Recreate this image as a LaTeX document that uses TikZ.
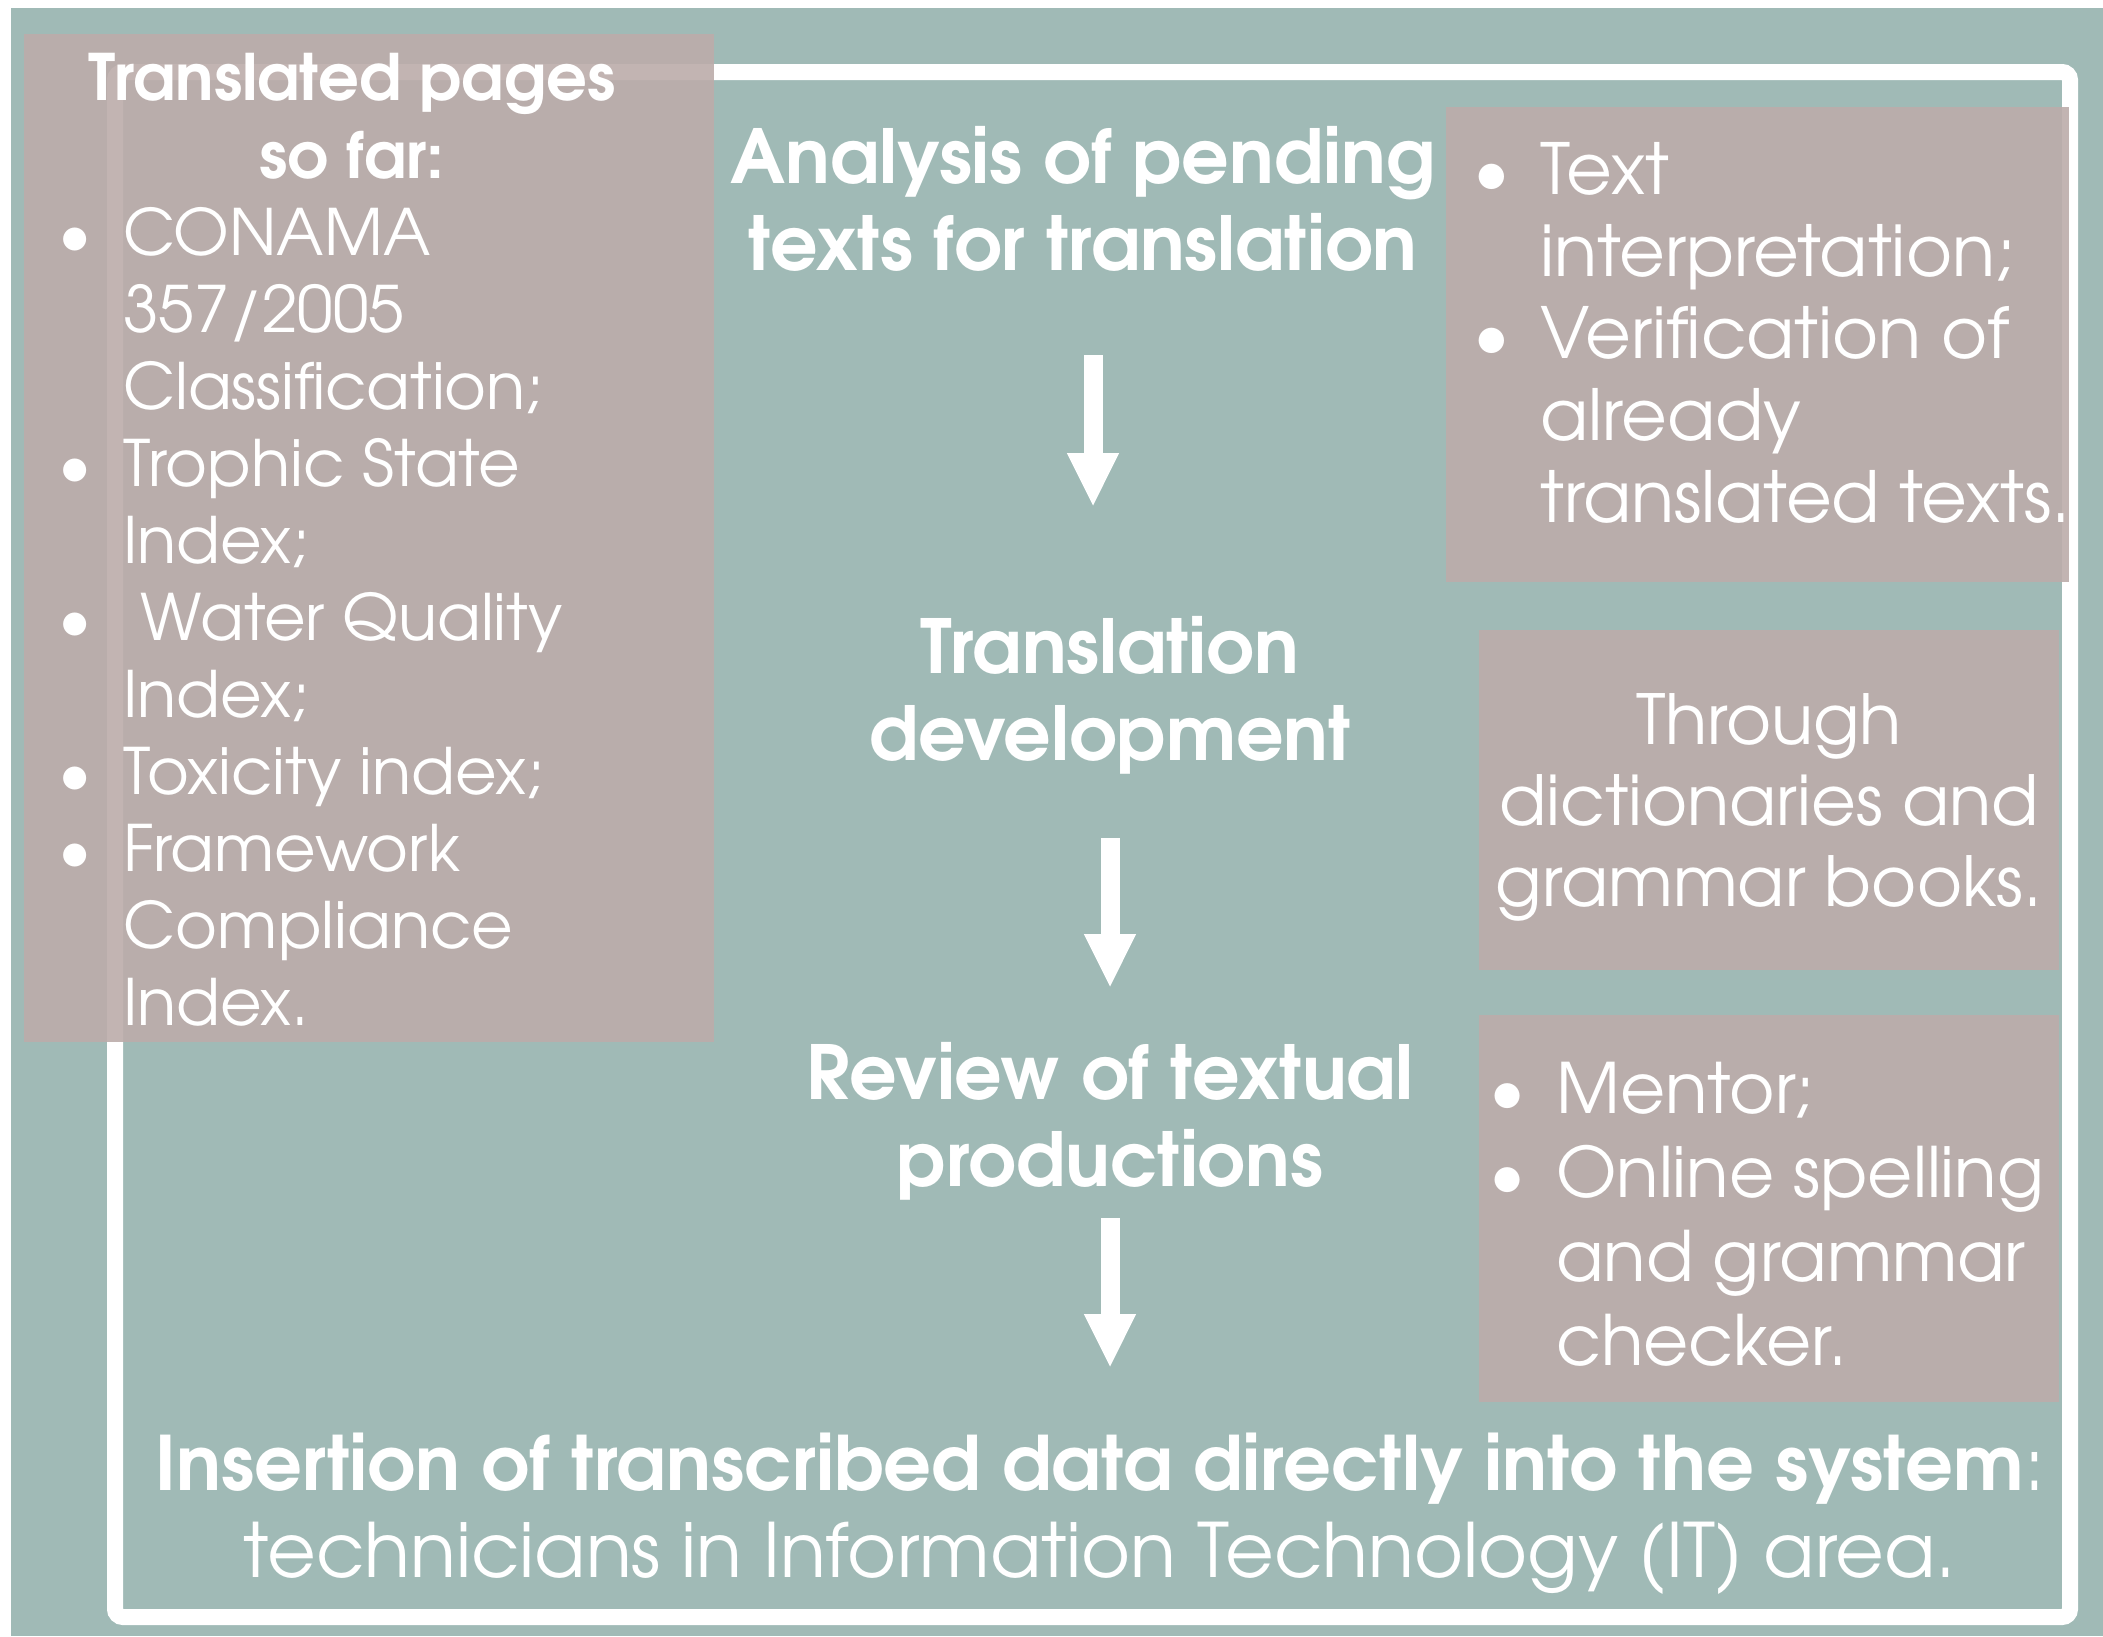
\documentclass[tikz,border=0pt]{standalone}
\usepackage{fontspec}
\setmainfont{TeX Gyre Adventor}
\usetikzlibrary{arrows.meta,calc}
\definecolor{tealbg}{RGB}{160,186,182}
\definecolor{mauve}{RGB}{188,172,170}
\tikzset{
  panel/.style={fill=mauve, fill opacity=0.9, draw=none, inner sep=0pt, anchor=north west},
  wtxt/.style={text=white, inner sep=0pt, anchor=base},
  wtxtl/.style={text=white, inner sep=0pt, anchor=base west},
  bigarrow/.style={draw=white, line width=19pt, -{Triangle[width=48pt,length=54pt]}},
  frame/.style={draw=white, line width=16pt, rounded corners=8pt}
}
\begin{document}
\begin{tikzpicture}[x=1pt,y=-1pt]
\useasboundingbox (0,0) rectangle (2103,1636);
\fill[white] (0,0) rectangle (2103,1636);
\fill[tealbg] (11,8) rectangle (2103,1636);
\draw[frame] (115,72) rectangle (2070,1617);
% panels
\node[panel, minimum width=690pt, minimum height=1008pt] (lbox) at (24,34) {};
\node[panel, minimum width=623pt, minimum height=475pt] (rbox1) at (1446,107) {};
\node[panel, minimum width=580pt, minimum height=340pt] (rbox2) at (1479,630) {};
\node[panel, minimum width=580pt, minimum height=387pt] (rbox3) at (1479,1015) {};
% left box text
\node[wtxt, font=\fontsize{64}{78}\selectfont\bfseries] (ltitle) at (352,100)
  {\begin{tabular}[t]{@{}c@{}}Translated pages\\so far:\end{tabular}};
\node[wtxtl, font=\fontsize{64}{77}\selectfont] (llist) at (58,255)
  {\begin{tabular}[t]{@{}p{65pt}@{}l@{}}
  \textbullet & CONAMA\\
  & 357/2005\\
  & Classification;\\
  \textbullet & Trophic State\\
  & Index;\\
  \textbullet & \ Water Quality\\
  & Index;\\
  \textbullet & Toxicity index;\\
  \textbullet & Framework\\
  & Compliance\\
  & Index.
  \end{tabular}};
% right boxes text
\node[wtxtl, font=\fontsize{70.5}{82}\selectfont] (r1list) at (1473,194)
  {\begin{tabular}[t]{@{}p{67pt}@{}l@{}}
  \textbullet & Text\\
  & interpretation;\\
  \textbullet & Verification of\\
  & already\\
  & translated texts.
  \end{tabular}};
\node[wtxt, font=\fontsize{69}{81}\selectfont] (r2text) at (1769,744)
  {\begin{tabular}[t]{@{}c@{}}Through\\dictionaries and\\grammar books.\end{tabular}};
\node[wtxtl, font=\fontsize{69.5}{84}\selectfont] (r3list) at (1489,1113)
  {\begin{tabular}[t]{@{}p{67pt}@{}l@{}}
  \textbullet & Mentor;\\
  \textbullet & Online spelling\\
  & and grammar\\
  & checker.
  \end{tabular}};
% center titles
\node[wtxt, font=\fontsize{74.5}{87}\selectfont\bfseries] (t1) at (1083,183)
  {\begin{tabular}[t]{@{}c@{}}Analysis of pending\\texts for translation\end{tabular}};
\node[wtxt, font=\fontsize{74.5}{87}\selectfont\bfseries] (t2) at (1110,673)
  {\begin{tabular}[t]{@{}c@{}}Translation\\development\end{tabular}};
\node[wtxt, font=\fontsize{74.5}{87}\selectfont\bfseries] (t3) at (1110,1099)
  {\begin{tabular}[t]{@{}c@{}}Review of textual\\productions\end{tabular}};
\node[wtxt, font=\fontsize{75}{87}\selectfont] (t4) at (1100,1490)
  {\begin{tabular}[t]{@{}c@{}}\textbf{Insertion of transcribed data directly into the system}:\\technicians in Information Technology (IT) area.\end{tabular}};
% arrows
\coordinate (a1s) at (1093,355);
\coordinate (a1e) at (1093,507);
\coordinate (a2s) at (1110,838);
\coordinate (a2e) at (1110,988);
\coordinate (a3s) at (1110,1218);
\coordinate (a3e) at (1110,1368);
\draw[bigarrow] (a1s) -- (a1e);
\draw[bigarrow] (a2s) -- (a2e);
\draw[bigarrow] (a3s) -- (a3e);
\end{tikzpicture}
\end{document}
